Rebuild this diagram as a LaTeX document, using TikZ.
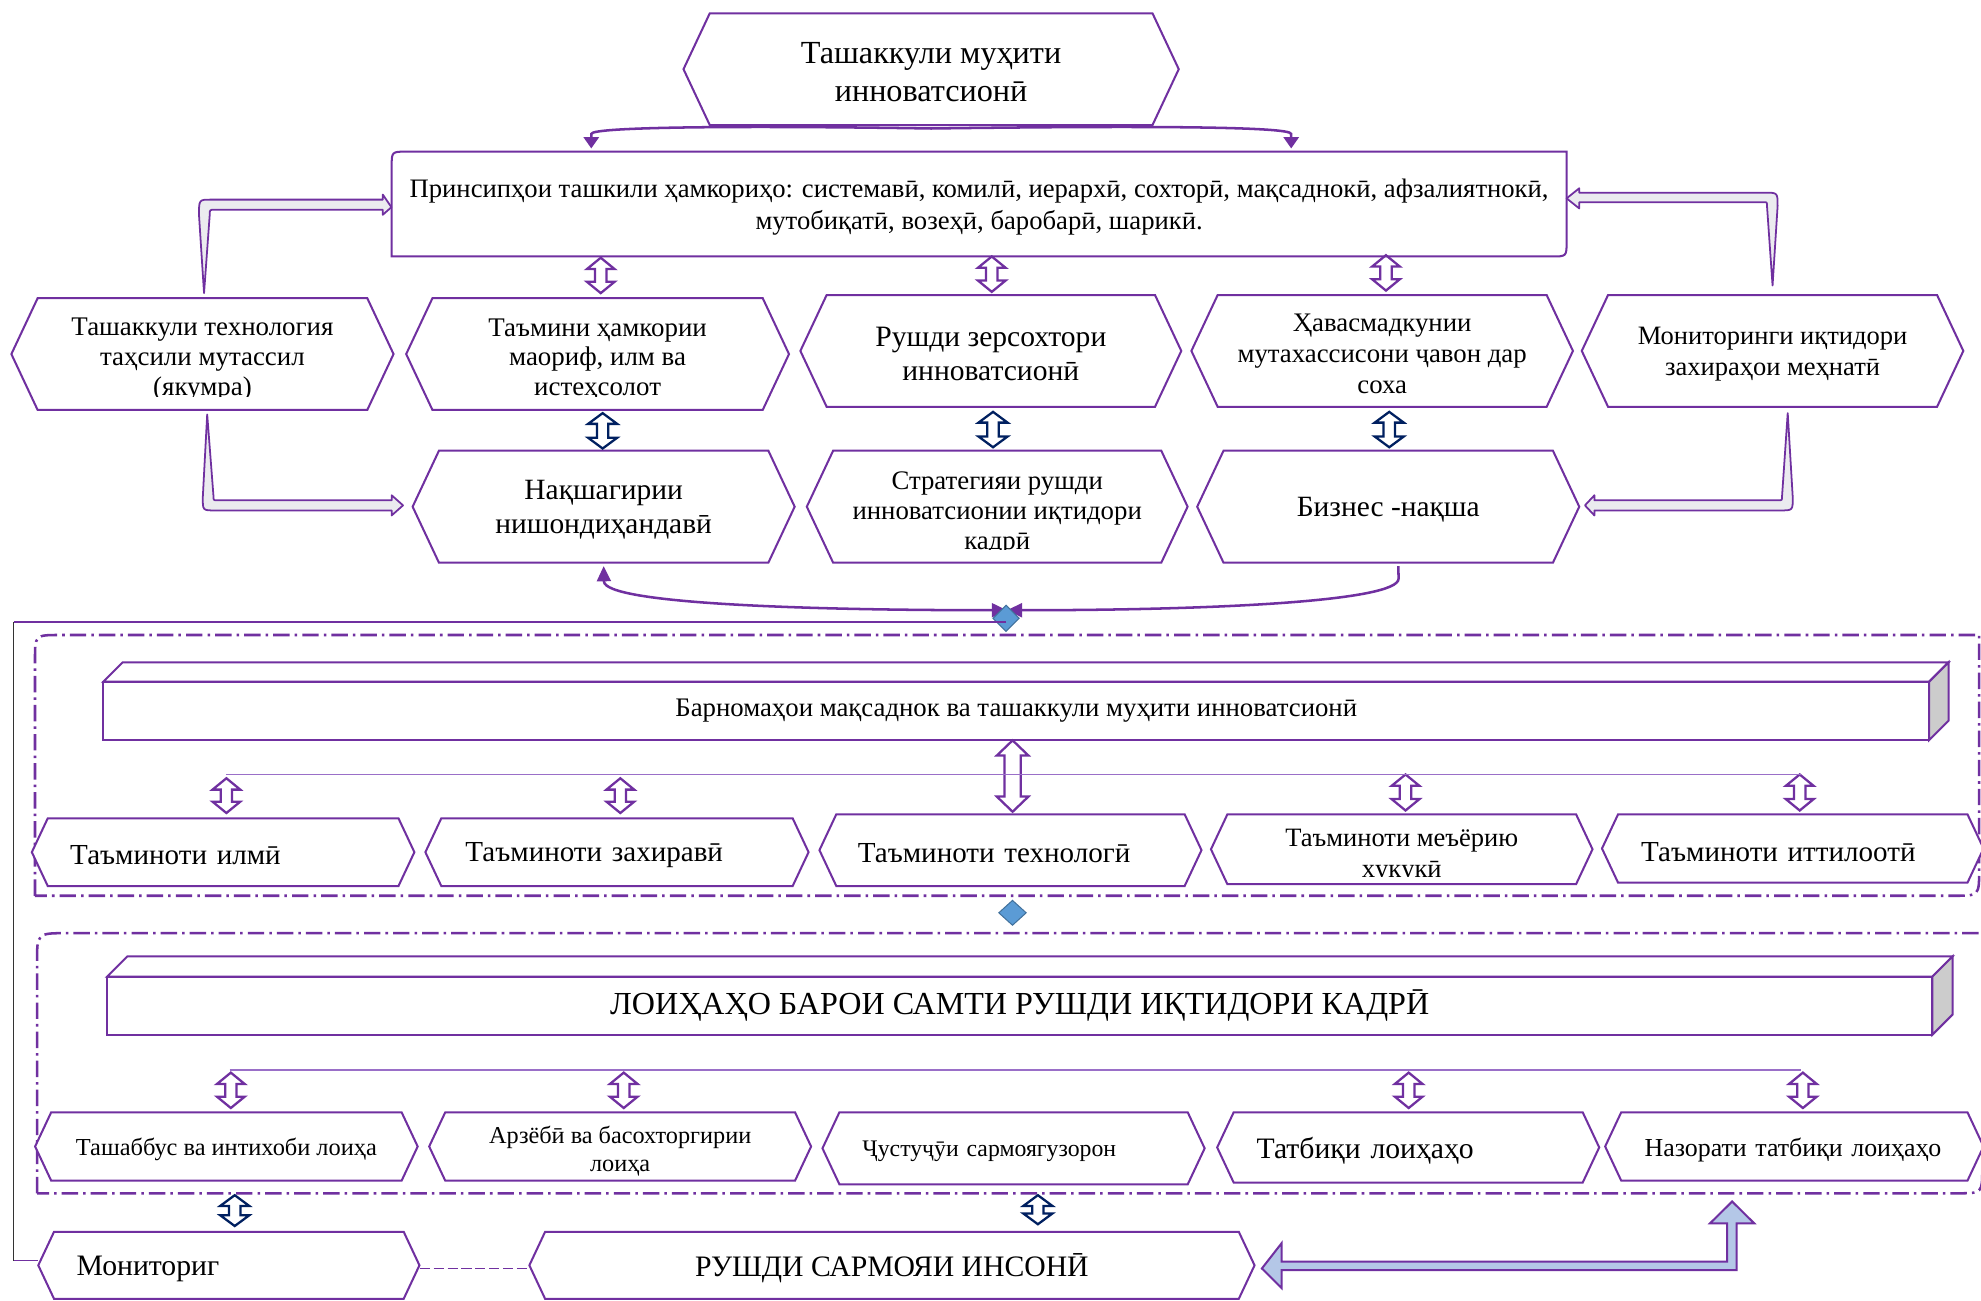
\documentclass[tikz,border=0pt]{standalone}
\usepackage{fontspec}
\setmainfont{Liberation Serif}
\usetikzlibrary{shapes.geometric,arrows.meta,calc}

\definecolor{purp}{HTML}{7030A0}
\definecolor{navy}{HTML}{002060}
\definecolor{lpurp}{HTML}{9A6FC8}
\definecolor{dfill}{HTML}{5B9BD5}
\definecolor{dline}{HTML}{41719C}
\definecolor{barrow}{HTML}{B4C7E7}
\definecolor{grayfill}{HTML}{EBEBEF}
\definecolor{sidegray}{HTML}{CCCCCC}

\newcommand\fs[2]{\fontsize{#1}{#2}\selectfont}

\tikzset{
  shapeline/.style={draw=purp, line width=1.6pt, fill=white, line join=miter},
  hexnode/.style={inner sep=0pt, align=center, yshift=-2.5pt},
  conn/.style={draw=purp, line width=2pt},
  frameline/.style={draw=purp, line width=2pt, dash pattern=on 13pt off 4pt on 2pt off 4pt},
  bent/.style={draw=purp, line width=1.4pt, fill=grayfill, line join=round},
  thinl/.style={draw=lpurp, line width=1pt},
  dbl/.style={line width=1.8pt, line join=miter},
}

% hexagon: name, node options, xl, xr, ytop, ybot, clip bottom, text
\newcommand\hexa[8]{%
  \pgfmathsetmacro\hin{0.235*(#6-#5)}%
  \pgfmathsetmacro\hmid{(#5+#6)/2}%
  \pgfmathsetmacro\hcx{(#3+#4)/2}%
  \pgfmathsetmacro\hw{#4-#3}%
  \pgfmathsetmacro\hh{#6-#5}%
  \path[shapeline] (#3,\hmid) -- (#3+\hin,#5) -- (#4-\hin,#5) -- (#4,\hmid)
     -- (#4-\hin,#6) -- (#3+\hin,#6) -- cycle;
  \begin{scope}
    \clip (#3,#5) rectangle (#4,#7);
    \node[hexnode, minimum width=\hw pt, minimum height=\hh pt, #2] (#1) at (\hcx,\hmid) {#8};
  \end{scope}
}

% cuboid: name, xl, xr, ytop, ybot, depth, font, text
\newcommand\cuboid[8]{%
  \pgfmathsetmacro\bcx{(#2+#3)/2}%
  \pgfmathsetmacro\bcy{(#4+#5)/2}%
  \pgfmathsetmacro\bw{#3-#2}%
  \pgfmathsetmacro\bh{#5-#4}%
  \path[shapeline] (#2,#4) -- (#2+#6,#4-#6) -- (#3+#6,#4-#6) -- (#3,#4) -- cycle;
  \path[shapeline, fill=sidegray] (#3,#4) -- (#3+#6,#4-#6) -- (#3+#6,#5-#6) -- (#3,#5) -- cycle;
  \node[shapeline, inner sep=0pt, minimum width=\bw pt, minimum height=\bh pt, font={#7}] (#1) at (\bcx,\bcy) {#8};
}

% hollow double arrow: colour, x, ytop, ybot, head half width, shaft half width, head length
\newcommand\dblarrow[7]{%
  \draw[dbl, draw=#1] (#2,#3) -- (#2+#5,#3+#7) -- (#2+#6,#3+#7) -- (#2+#6,#4-#7)
    -- (#2+#5,#4-#7) -- (#2,#4) -- (#2-#5,#4-#7) -- (#2-#6,#4-#7)
    -- (#2-#6,#3+#7) -- (#2-#5,#3+#7) -- cycle;
}

\begin{document}
\begin{tikzpicture}[x=1pt, y=-1pt, >={Triangle[length=9pt,width=12pt]}]
\useasboundingbox[fill=white] (0,0) rectangle (1568,1029);

% ---------- dash-dot frames ----------
\draw[frameline] (27.7,709) -- (27.7,522) .. controls (27.7,502.6) .. (47.7,502.6)
  -- (1566.5,502.6) -- (1566.5,689) .. controls (1566.5,709) .. (1546.5,709) -- cycle;
\draw[frameline] (29.3,944.5) -- (29.3,762) .. controls (29.3,738.6) .. (53,738.6)
  -- (1569,738.6) -- (1569,925) .. controls (1569,944.5) .. (1549,944.5) -- cycle;

% ---------- top ----------
\hexa{top}{font={\fs{25.5}{30}}}{541}{933}{10.5}{99}{99}{Ташаккули муҳити\\инноватсионӣ}

\path[shapeline] (310,203) -- (310,132) .. controls (310,120) .. (322,120) -- (1240,120)
  -- (1240,191) .. controls (1240,203) .. (1228,203) -- cycle;
\node[hexnode, minimum width=930pt, minimum height=83pt, font={\fs{21.1}{25}}] (pr) at (775,161.5)
  {Принсипҳои ташкили ҳамкориҳо: системавӣ, комилӣ, иерархӣ, сохторӣ, мақсаднокӣ, афзалиятнокӣ,\\мутобиқатӣ, возеҳӣ, баробарӣ, шарикӣ.};

\draw[conn,->] (top.south) .. controls (600,99.5) and (468,100) .. (468,106) -- (468,117.5);
\draw[conn,->] (top.south) .. controls (900,99.5) and (1022,100) .. (1022,106) -- (1022,117.5);

% ---------- row 1 ----------
\hexa{h1}{font={\fs{21.3}{23.5}}, yshift=-2pt}{9}{311.5}{236}{324.5}{314}{Ташаккули технология\\таҳсили мутассил\\(якумра)}
\hexa{h2}{font={\fs{21.3}{23.5}}, yshift=-2pt}{321.5}{624.5}{236}{324.5}{314}{Таъмини ҳамкории\\маориф, илм ва\\истеҳсолот}
\hexa{h3}{font={\fs{23.4}{27}}}{633.5}{935}{233.5}{322}{322}{Рушди зерсохтори\\инноватсионӣ}
\hexa{h4}{font={\fs{21.2}{24.5}}}{943}{1245}{233.5}{322}{322}{Ҳавасмадкунии\\мутахассисони ҷавон дар\\соха}
\hexa{h5}{font={\fs{21}{25}}}{1252}{1554}{233.5}{322}{322}{Мониторинги иқтидори\\захираҳои меҳнатӣ}

% ---------- row 2 ----------
\hexa{n1}{font={\fs{23.3}{27}}}{326.6}{629}{356.7}{445.4}{445.4}{Нақшагирии\\нишондиҳандавӣ}
\hexa{n2}{font={\fs{21.2}{24}}, yshift=-3pt}{638.6}{940}{356.7}{445.4}{435}{Стратегияи рушди\\инноватсионии иқтидори\\кадрӣ}
\hexa{n3}{font={\fs{23.3}{27}}}{947.6}{1250}{356.7}{445.4}{445.4}{Бизнес -нақша}

% ---------- bent arrows ----------
\path[bent] (161.5,232) -- (157.5,170) .. controls (157.5,158) .. (167,158) -- (303,158) -- (303,154)
  -- (pr.west) -- (303,170) -- (303,166) -- (170,166) .. controls (166,166) .. (166,170) -- cycle;
\path[bent] (1403,226) -- (1407,163) .. controls (1407,152.5) .. (1397,152.5) -- (1250,152.5) -- (1250,149)
  -- (1240,157) -- (1250,165) -- (1250,160) -- (1396,160) .. controls (1398.6,160) .. (1398.6,163) -- cycle;
\path[bent] (164,328) -- (160.5,394) .. controls (160.5,404) .. (170,404) -- (310,404) -- (310,408)
  -- (319,400) -- (310,392) -- (310,396) -- (172,396) .. controls (169,396) .. (169,393) -- cycle;
\path[bent] (1415,327) -- (1419,394) .. controls (1419,404) .. (1409,404) -- (1262,404) -- (1262,408)
  -- (1254.5,400) -- (1262,392) -- (1262,396) -- (1407.5,396) .. controls (1410.5,396) .. (1410.5,393) -- cycle;

% ---------- double arrows, top part ----------
\dblarrow{purp}{475.5}{204}{232}{11}{4.5}{9}
\dblarrow{purp}{785}{203}{231}{11}{4.5}{9}
\dblarrow{purp}{1097}{202}{230}{11}{4.5}{9}
\dblarrow{navy}{477}{327}{355}{11.5}{4.5}{8.5}
\dblarrow{navy}{786}{326}{354}{11.5}{4.5}{8.5}
\dblarrow{navy}{1099.6}{326}{354}{11.5}{4.5}{8.5}

% ---------- connectors to diamond ----------
\draw[conn,<->,>={Triangle[length=12pt,width=11pt]}] (n1.south) -- (478,460) .. controls (478,478) and (640,483) .. (797,483);
\draw[conn,->,>={Triangle[length=12pt,width=11pt]}] ($(n3.south)+(8,0)$) -- (1107,458) .. controls (1107,476) and (960,483) .. (797,483);
\node[diamond, draw=dline, fill=dfill, line width=0.8pt, minimum width=21pt, minimum height=21pt, inner sep=0pt] (d1) at (796.3,489.4) {};

\coordinate (ol) at (11,492.3);
\draw[purp, line width=0.9pt] (d1.center |- ol) -- (ol);
\draw[black!80, line width=0.9pt] (ol) -- (ol |- 0,998);
\draw[purp, line width=0.9pt] (ol |- 0,998) -- (30.3,998);

% ---------- frame 1 content ----------
\cuboid{prog}{81.8}{1527}{539.5}{585.7}{15.3}{\fs{21.2}{25}}{Барномаҳои мақсаднок ва ташаккули муҳити инноватсионӣ}

\dblarrow{purp}{179.2}{616}{643.5}{11}{4.5}{9}
\dblarrow{purp}{491}{616}{643.5}{11}{4.5}{9}
\dblarrow{purp}{1112.5}{613}{641.5}{11}{4.5}{9}
\dblarrow{purp}{1424.5}{613}{641.5}{11}{4.5}{9}
\dblarrow{purp}{801.5}{586}{642.5}{12.5}{6.5}{12}
\draw[thinl] (179,613) -- (1425.6,613);

\hexa{t1}{font={\fs{23}{27}}, text width=242pt, align=left}{25.2}{328}{647.7}{701.3}{701.3}{Таъминоти илмӣ}
\hexa{t2}{font={\fs{23}{27}}, text width=240pt, align=left}{336.7}{640}{647.7}{701.3}{701.3}{Таъминоти захиравӣ}
\hexa{t3}{font={\fs{23}{27}}, text width=241.6pt, align=left}{648.6}{951}{644.5}{701.3}{701.3}{Таъминоти технологӣ}
\hexa{t4}{font={\fs{21}{25}}, yshift=-3pt}{958.5}{1260.5}{644.6}{699.8}{694}{Таъминоти меъёрию\\ҳуқуқӣ}
\hexa{t5}{font={\fs{23}{27}}, text width=240pt, align=left}{1268}{1570}{644.6}{698.6}{698.6}{Таъминоти иттилоотӣ}

\node[diamond, draw=dline, fill=dfill, line width=0.8pt, minimum width=22pt, minimum height=20pt, inner sep=0pt] (d2) at (801.4,722.5) {};

% ---------- frame 2 content ----------
\cuboid{loi}{84.8}{1529.5}{773}{819}{16}{\fs{25.4}{29}}{ЛОИҲАҲО БАРОИ САМТИ РУШДИ ИҚТИДОРИ КАДРӢ}

\dblarrow{purp}{182.7}{849}{877}{11}{4.5}{9}
\dblarrow{purp}{493.7}{849}{877}{11}{4.5}{9}
\dblarrow{purp}{1115}{849}{877}{11}{4.5}{9}
\dblarrow{purp}{1427}{849}{877}{11}{4.5}{9}
\draw[thinl] (181.7,847) -- (1425.6,847);

\hexa{p1}{font={\fs{19.3}{22}}}{27.8}{330.6}{880.4}{934.5}{934.5}{Ташаббус ва интихоби лоиҳа}
\hexa{p2}{font={\fs{19.2}{22}}, yshift=-1pt}{339.7}{642}{880.4}{934.5}{934.5}{Арзёбӣ ва басохторгирии\\лоиҳа}
\hexa{p3}{font={\fs{18.8}{22}}, text width=239.3pt, align=left}{651}{953.5}{880.4}{937.4}{937.4}{Ҷустуҷӯи сармоягузорон}
\hexa{p4}{font={\fs{23.5}{27}}, text width=240pt, align=left}{963.4}{1265.8}{880.4}{936}{936}{Татбиқи лоиҳаҳо}
\hexa{p5}{font={\fs{20.5}{24}}, text width=237pt, align=left}{1270.5}{1570}{880.4}{934.5}{934.5}{Назорати татбиқи лоиҳаҳо}

% ---------- bottom ----------
\dblarrow{navy}{185.8}{946}{970.4}{11.5}{4.5}{8.5}
\dblarrow{navy}{821.5}{946}{969}{11.5}{4.5}{8.5}

\hexa{mon}{font={\fs{23.5}{27}}, text width=241pt, align=left}{30.3}{332}{975}{1028}{1028}{Мониториг}
\hexa{rsi}{font={\fs{23.5}{27}}}{419}{993}{975}{1028}{1028}{РУШДИ САРМОЯИ ИНСОНӢ}

\draw[purp, line width=1.2pt, dash pattern=on 8pt off 3pt] (mon.east) -- (rsi.west);

\draw[draw=purp, line width=1.6pt, fill=barrow, line join=miter]
  ($(rsi.east)+(5.6,0)$) -- (1014.4,984) -- (1014.4,998.6) -- (1367,998.6) -- (1367,968.3)
  -- (1353.5,968.3) -- (1371,951) -- (1388.5,968.3) -- (1374.5,968.3) -- (1374.5,1005.3)
  -- (1014.4,1005.3) -- (1014.4,1019.5) -- cycle;

\end{tikzpicture}
\end{document}
